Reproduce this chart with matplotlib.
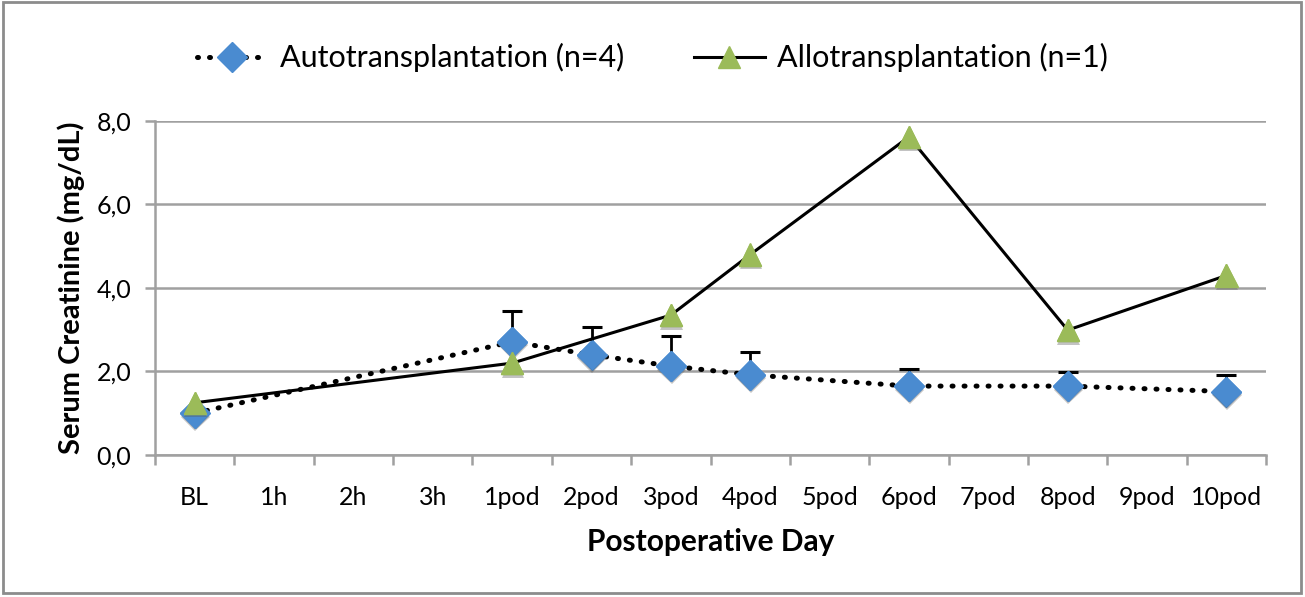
import numpy as np
import matplotlib.pyplot as plt
import matplotlib.patheffects as pe
from matplotlib.patches import Rectangle

# categories on the x axis
categories = ['BL', '1h', '2h', '3h', '1pod', '2pod', '3pod', '4pod',
              '5pod', '6pod', '7pod', '8pod', '9pod', '10pod']

# days that were actually measured
auto_days = ['BL', '1pod', '2pod', '3pod', '4pod', '6pod', '8pod', '10pod']
auto_mean = [1.00, 2.71, 2.40, 2.13, 1.92, 1.65, 1.65, 1.52]
auto_err = [0.00, 0.75, 0.66, 0.73, 0.54, 0.40, 0.34, 0.40]

allo_days = ['BL', '1pod', '3pod', '4pod', '6pod', '8pod', '10pod']
allo_vals = [1.25, 2.20, 3.35, 4.80, 7.62, 2.99, 4.30]

yticks = [0, 2, 4, 6, 8]

plt.rcParams['font.family'] = ['Lato', 'DejaVu Sans']

fig = plt.figure(figsize=(13.05, 5.97), dpi=100)
ax = fig.add_axes([0.1188, 0.2379, 0.8514, 0.5595])

grey = '#a0a0a0'
blue = '#4a8bd0'
green = '#9bbb59'
shadow = [pe.SimplePatchShadow(offset=(0.5, -2.5), shadow_rgbFace='#555555', alpha=0.35), pe.Normal()]

x_auto = [categories.index(d) for d in auto_days]
x_allo = [categories.index(d) for d in allo_days]

ax.errorbar(x_auto, auto_mean, yerr=[np.zeros(len(auto_err)), auto_err],
            fmt='none', ecolor='black', elinewidth=2, capsize=7, capthick=2.2, zorder=3)
ax.plot(x_auto, auto_mean, color='black', lw=3.6, linestyle=(0, (0.2, 2.2)),
        dash_capstyle='round', marker='D', markersize=15, markerfacecolor=blue,
        markeredgecolor=blue, label='Autotransplantation (n=4)', zorder=4)
ax.plot(x_auto, auto_mean, ls='none', marker='D', markersize=15, color=blue,
        path_effects=shadow, zorder=4.5)
ax.plot(x_allo, allo_vals, color='black', lw=2.2, marker='^', markersize=16,
        markerfacecolor=green, markeredgecolor=green,
        label='Allotransplantation (n=1)', zorder=5)
ax.plot(x_allo, allo_vals, ls='none', marker='^', markersize=16, color=green,
        path_effects=shadow, zorder=5.5)

ax.set_xlim(-0.5, len(categories) - 0.5)
ax.set_ylim(0, 8)
ax.set_yticks(yticks)
ax.set_yticklabels([f'{v:.1f}'.replace('.', ',') for v in yticks])
ax.set_xticks(range(len(categories)))
ax.set_xticklabels(categories)
ax.set_xticks(np.arange(-0.5, len(categories)), minor=True)

ax.grid(axis='y', color=grey, lw=1.8, zorder=0)
ax.set_axisbelow(True)
for s in ['top', 'right']:
    ax.spines[s].set_visible(False)
for s in ['left', 'bottom']:
    ax.spines[s].set_color(grey)
    ax.spines[s].set_linewidth(1.8)

ax.tick_params(axis='x', which='major', length=0, pad=22, labelsize=18)
ax.tick_params(axis='x', which='minor', length=7, width=1.8, color=grey)
ax.tick_params(axis='y', length=7, width=1.8, color=grey, pad=10, labelsize=18)

ax.set_xlabel('Postoperative Day', fontsize=21.5, fontweight='bold', labelpad=14)
ax.set_ylabel('Serum Creatinine (mg/dL)', fontsize=21, fontweight='bold', labelpad=8)

fig.legend(loc='center', bbox_to_anchor=(0.5, 0.903), ncol=2, frameon=False,
           fontsize=22, handlelength=2.3, handletextpad=0.4, columnspacing=2.3)

fig.add_artist(Rectangle((0.002, 0.006), 0.995, 0.99, transform=fig.transFigure,
                         fill=False, ec='#8c8c8c', lw=2))

fig.savefig('out.png', dpi=100)
